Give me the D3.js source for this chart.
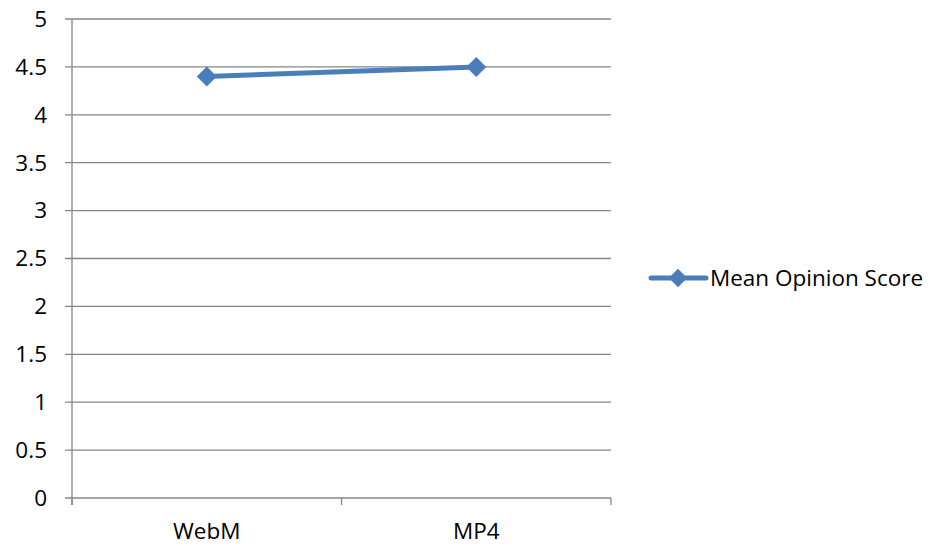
<!DOCTYPE html>
<html>
<head>
<meta charset="utf-8">
<script src="https://d3js.org/d3.v7.min.js"></script>
<style>
    body { margin: 0; background: #fff; }
    text { font-family: "Open Sans", "Noto Sans", sans-serif; fill: #000; }
</style>
</head>
<body>
<script>
    // chart data
    var categories = ["WebM", "MP4"];
    var scores = [4.4, 4.5];
    var yTicks = [0, 0.5, 1, 1.5, 2, 2.5, 3, 3.5, 4, 4.5, 5];
    var seriesName = "Mean Opinion Score";

    var width = 935, height = 546;
    var margin = {top: 19, left: 72, right: 324, bottom: 48};
    var color = "#4a7ebb";
    var fontSize = "22.5px";

    var svg = d3.select("body").append("svg")
        .attr("width", width)
        .attr("height", height);

    var x = d3.scaleBand()
        .domain(categories)
        .range([margin.left, width - margin.right]);

    var y = d3.scaleLinear()
        .domain([0, 5])
        .range([height - margin.bottom, margin.top]);

    // horizontal gridlines
    svg.append("g")
        .selectAll("line")
        .data(yTicks)
        .enter().append("line")
        .attr("x1", margin.left - 7)
        .attr("x2", width - margin.right)
        .attr("y1", d => y(d))
        .attr("y2", d => y(d))
        .attr("stroke", "#868686")
        .attr("stroke-width", 1.3);

    // y axis line
    svg.append("line")
        .attr("x1", margin.left).attr("x2", margin.left)
        .attr("y1", y(5)).attr("y2", y(0) + 7)
        .attr("stroke", "#868686")
        .attr("stroke-width", 1.3);

    // y tick labels
    svg.append("g")
        .selectAll("text")
        .data(yTicks)
        .enter().append("text")
        .attr("x", 47)
        .attr("y", d => y(d))
        .attr("dy", "0.35em")
        .attr("text-anchor", "end")
        .style("font-size", fontSize)
        .text(d => d);

    // x axis category tick marks (band edges)
    var edges = categories.map(c => x(c)).concat([x.range()[1]]);
    svg.append("g")
        .selectAll("line")
        .data(edges)
        .enter().append("line")
        .attr("x1", d => d).attr("x2", d => d)
        .attr("y1", y(0)).attr("y2", y(0) + 7)
        .attr("stroke", "#868686")
        .attr("stroke-width", 1.3);

    svg.append("g")
        .selectAll("text")
        .data(categories)
        .enter().append("text")
        .attr("x", d => x(d) + x.bandwidth() / 2)
        .attr("y", 539)
        .attr("text-anchor", "middle")
        .style("font-size", fontSize)
        .text(d => d);

    // series line
    var line = d3.line()
        .x((d, i) => x(categories[i]) + x.bandwidth() / 2)
        .y(d => y(d));

    svg.append("path")
        .datum(scores)
        .attr("d", line)
        .attr("fill", "none")
        .attr("stroke", color)
        .attr("stroke-width", 5)
        .attr("stroke-linejoin", "round");

    var diamond = d3.symbol().type(d3.symbolSquare).size(200);
    svg.append("g")
        .selectAll("path")
        .data(scores)
        .enter().append("path")
        .attr("d", diamond)
        .attr("transform", (d, i) => "translate(" + (x(categories[i]) + x.bandwidth() / 2) + "," + y(d) + ") rotate(45)")
        .attr("fill", color);

    // legend
    var lg = svg.append("g").attr("transform", "translate(651,278)");
    lg.append("line")
        .attr("x1", 0).attr("x2", 55)
        .attr("stroke", color)
        .attr("stroke-width", 5)
        .attr("stroke-linecap", "round");
    lg.append("path")
        .attr("d", d3.symbol().type(d3.symbolSquare).size(170))
        .attr("transform", "translate(27,0) rotate(45)")
        .attr("fill", color);
    lg.append("text")
        .attr("x", 59)
        .attr("dy", "0.35em")
        .style("font-size", fontSize)
        .text(seriesName);
</script>
</body>
</html>
